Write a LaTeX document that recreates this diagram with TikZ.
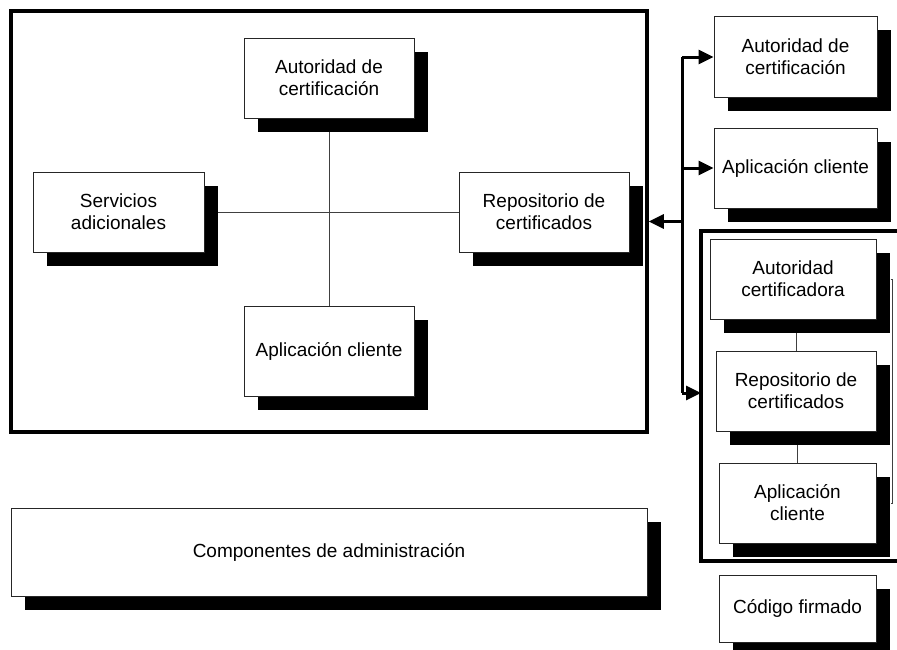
\documentclass[tikz,border=0pt]{standalone}
\usepackage{fontspec}
\setmainfont{Liberation Sans}
\usetikzlibrary{arrows.meta,shadows,backgrounds}

\tikzset{
  card/.style={draw=black!85, line width=1pt, fill=white, align=center,
    inner sep=2pt, font=\fontsize{19}{22}\selectfont,
    general shadow={fill=black, shadow xshift=14pt, shadow yshift=-14pt}},
  frame/.style={draw=black, line width=3.5pt},
  thinline/.style={draw=black!75, line width=1pt},
  bus/.style={draw=black, line width=3pt},
  busarrow/.style={bus, -{Triangle[length=15pt,width=14pt]}}
}

\begin{document}
\begin{tikzpicture}[x=1pt,y=-1pt]
\useasboundingbox (0,0) rectangle (897,649);
\clip (0,0) rectangle (897,649);

% system frame
\node[frame, minimum width=636pt, minimum height=421pt, inner sep=0pt] (sys) at (329,221.5) {};

% components inside the system frame
\node[card, minimum width=170pt, minimum height=80pt] (acA) at (329,78) {Autoridad de\\certificación};
\node[card, minimum width=171pt, minimum height=80pt] (scA) at (118.5,212) {Servicios\\adicionales};
\node[card, minimum width=170pt, minimum height=80pt] (rcA) at (544,212) {Repositorio de\\certificados};
\node[card, minimum width=170pt, minimum height=90pt] (apA) at (329,351) {Aplicación cliente};

% administration block
\node[card, minimum width=636pt, minimum height=88pt] (adm) at (329,552) {Componentes de administración};

% external components
\node[card, minimum width=163pt, minimum height=81pt] (acB) at (795.5,56.5) {Autoridad de\\certificación};
\node[card, minimum width=163pt, minimum height=80pt] (apB) at (795.5,168) {Aplicación cliente};

% grouped components
\node[card, minimum width=166pt, minimum height=80pt] (acC) at (793,279) {Autoridad\\certificadora};
\node[card, minimum width=160pt, minimum height=80pt] (rcC) at (796,391) {Repositorio de\\certificados};
\node[card, minimum width=157pt, minimum height=80pt] (apC) at (797.5,503) {Aplicación\\cliente};
\node[card, minimum width=157pt, minimum height=67pt] (cf) at (797.5,608.5) {Código firmado};

% group frame, open to the right
\coordinate (grpNW) at (701,231);
\coordinate (grpSW) at (701,561);
\coordinate (grpIn) at (701,393);
\draw[frame] (899,231) -- (grpNW) -- (grpSW) -- (899,561);

\begin{scope}[on background layer]
  \draw[thinline] (acA.south) -- (apA.north);
  \draw[thinline] (scA.east) -- (rcA.west);
  \draw[thinline] (rcC.north) -- (rcC.north |- acC.south);
  \draw[thinline] (apC.north) -- (apC.north |- rcC.south);
\end{scope}
\draw[thinline] ([xshift=14pt]acC.east) -| ([xshift=16pt]apC.east) -- ([xshift=14pt]apC.east);

% communication bus
\coordinate (busTop) at (682,57);
\coordinate (busBot) at (682,393);
\coordinate (busMid) at (682,221.5);
\coordinate (busB) at (682,168);
\draw[bus] (busTop) -- (busBot);
\draw[busarrow] (busTop) -- (acB.west |- busTop);
\draw[busarrow] (busB) -- (apB.west);
\draw[busarrow] (busBot) -- (grpIn);
\draw[busarrow] (busMid) -- (sys.east);
\end{tikzpicture}
\end{document}
